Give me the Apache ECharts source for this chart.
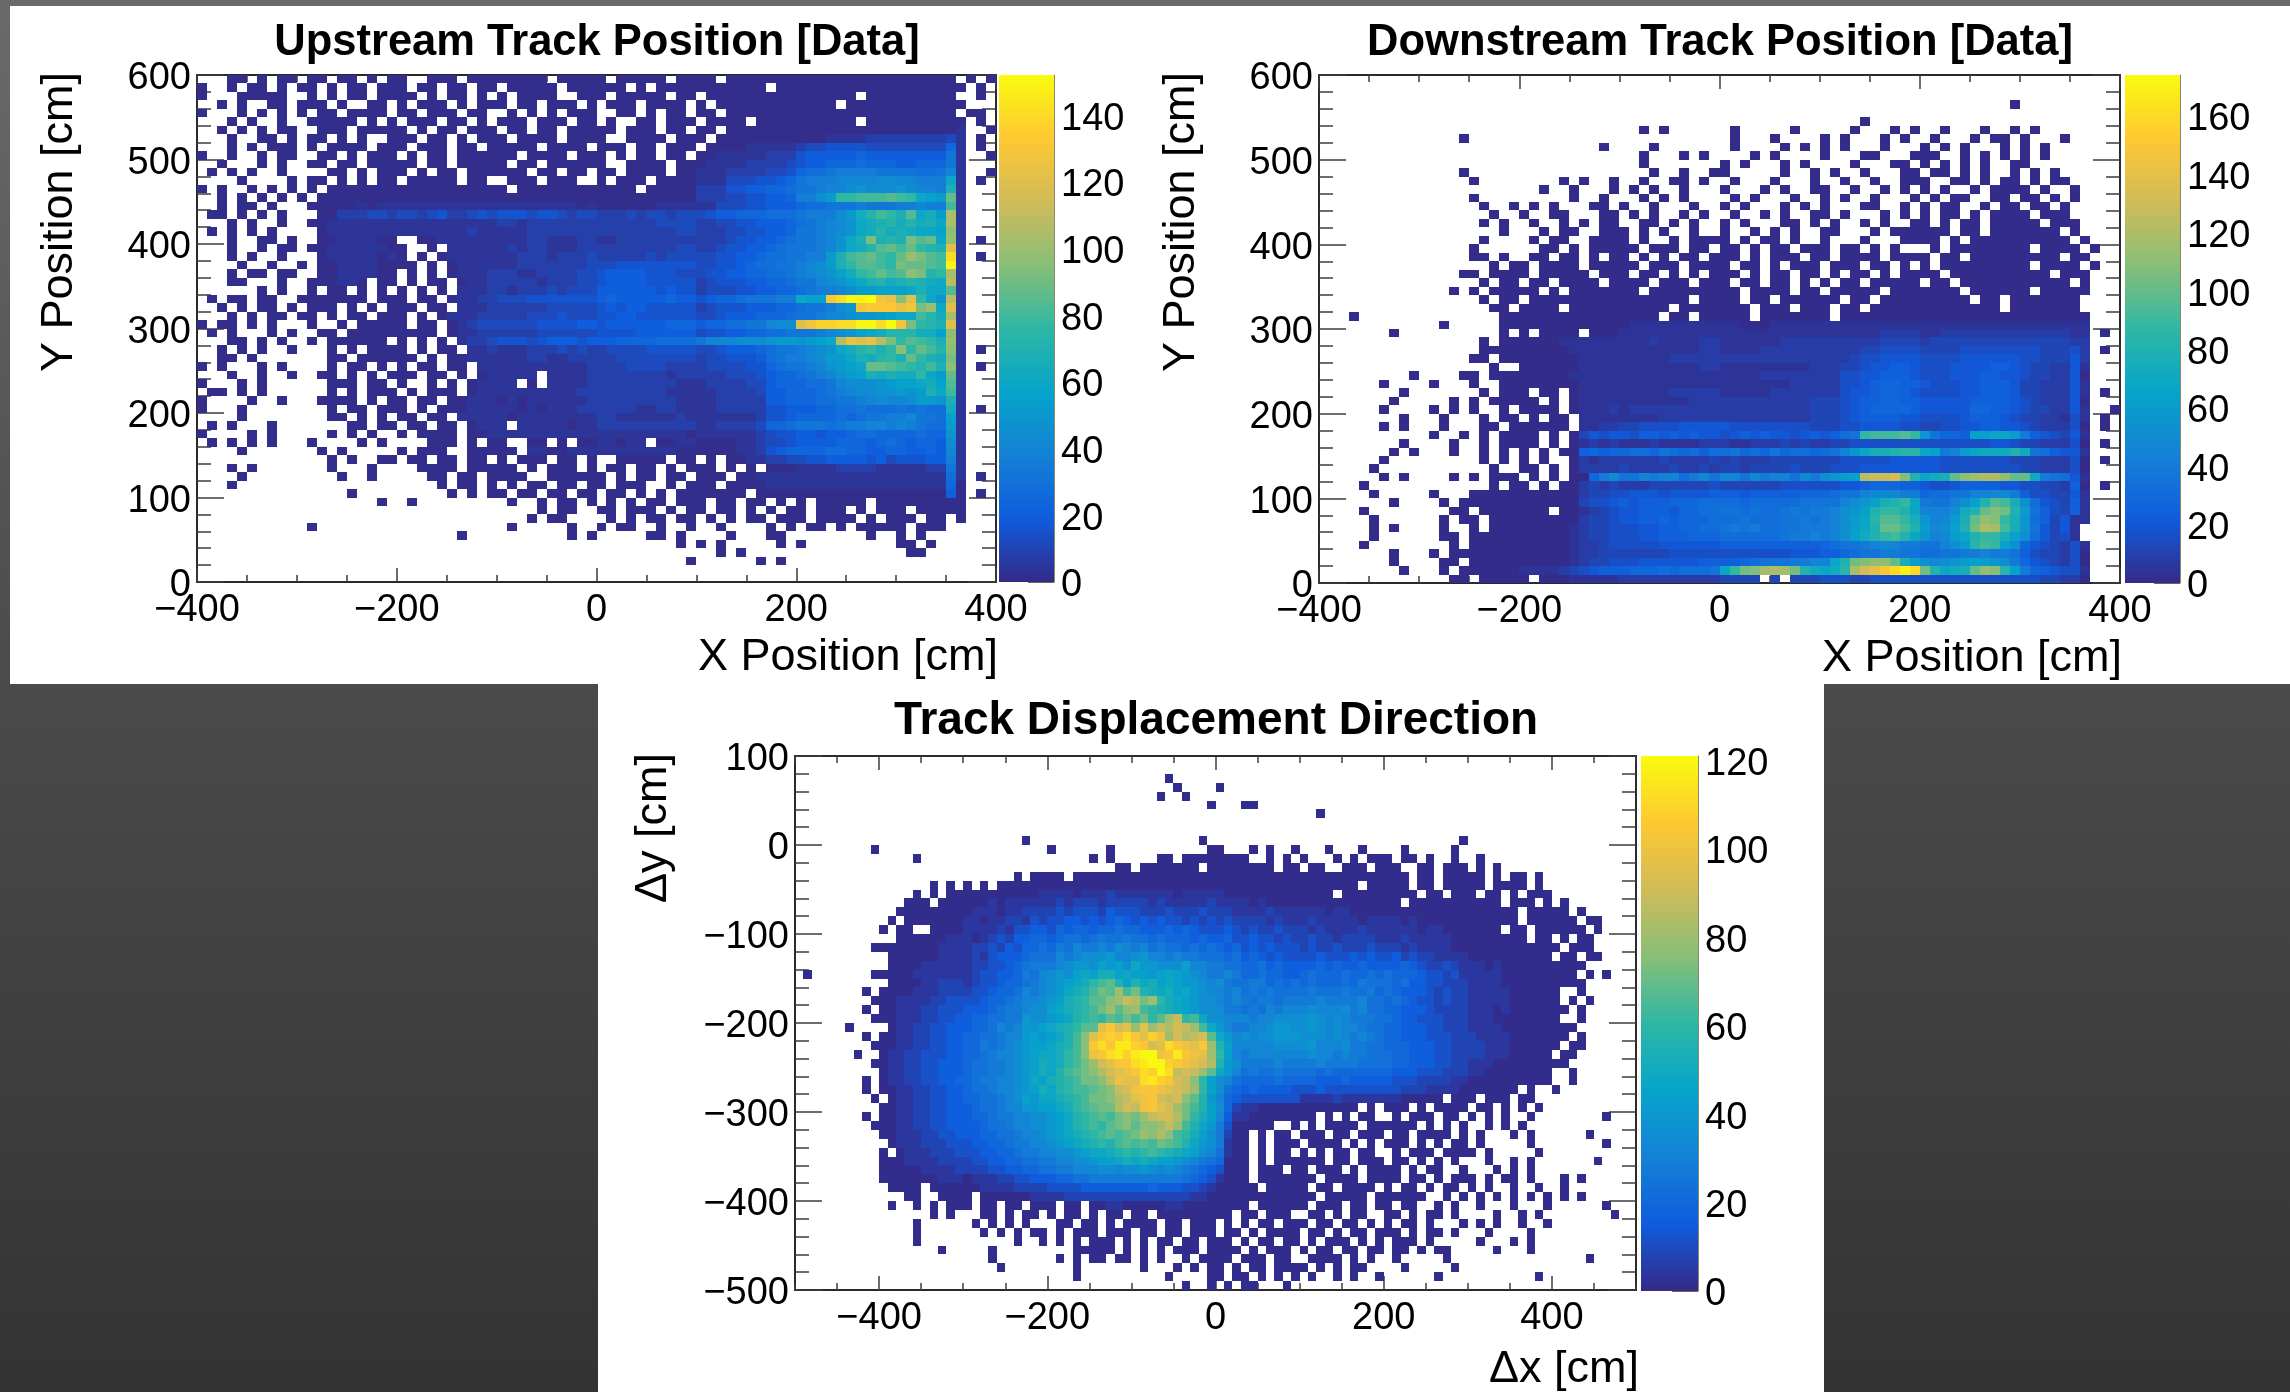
<!DOCTYPE html>
<html><head><meta charset="utf-8">
<style>html,body{margin:0;padding:0;background:#444}#c{width:2290px;height:1392px}</style>
<script src="https://cdn.jsdelivr.net/npm/echarts@6/dist/echarts.min.js"></script>
</head><body><div id="c"></div>
<script>
// Bin contents, one string per row from the top row down.
// '.' = empty bin, any other character = bin count through CODE_VALUES.
const CODES = "0123456789abcdefghijklmnopqrstuvwxyzABC";
const CODE_VALUES = [1,4,8,12,16,20,24,28,32,36,40,44,48,52,56,60,64,68,72,76,80,84,88,92,96,100,104,108,112,116,120,124,128,132,136,140,150,160,170];

const upstreamRows = [
"...00.0.00 .00.00.0.0 0..000.000 00000.0000 0.00000.00 00.0000000 0000000000 000000.0.0",
"0..0.00.0. 00.0.00.00 0.00.00.00 .00000.000 000.0.0000 0000000.00 0000000000 0000000.0.",
"0...00000. .0.0.00.00 00.0.00.0. 0.0000..00 0.00000.00 .000000000 000000.000 000000..0.",
"..0.0..00. 000.0..00. 0.000.0.00 0.00.000.0 .000.0000. 0.00000000 0000.00000 0000000...",
"0...0.0.0. 0.00.0000. 00.000.00. .0.0.0.000 ..00.0.00. 00.0000000 0000000000 000000.00.",
"...0.0..0. .00000.0.0 .000.00.0. 000.000.00 .0..00.000 .0000.0000 000000.000 0000000.0.",
"..0.0.0.00 ..000.0000 0.0.00.000 .00.00.000 00.000.00. 00.0000000 0000000000 0000001..0",
"...0..00.0 .00.0.0..0 00.00.0.00 0.0000.000 0..0000.00 0.00000000 0001111222 2222231.0.",
"...0.0.000 .0.0000.00 0.000.00.0 0000.0000 000.00.000 .000011111 2334444333 3333361.0.",
"0..0..0.00 ..00.0.000 .0.00.0000 00.0000.00 0.0.00.00. 0011111222 4555556555 5555581..0",
"..0...0.0. .00.00.000 00.00.0000 0.00.00000 0..0000.00 0111122223 4556667666 5566681...",
".0.0.0..0. ...00.0.00 0.0.00.000 000.00.00. 00.0000.00 1112222334 6778999988 88778a1..0",
"....0....0 .00.0.0.00 .00000.00. .000.000.. 0.000.0000 1113334456 8999aaaabb aa999f1.0.",
"0.0..0.0.0 .0.0000000 0000000000 0.00000000 0000.00000 2224455667 889aabcbbb cbaa9h1...",
"..0.0.0.0. 0.00000000 0000000000 0000000000 0000000000 2223344556 99bdjjkkkl kjfedm1...",
"..0.00.0.. .000001011 1111111111 1111111101 0000001111 1133344555 6778889888 99a99k1...",
".00.0.0.0. ..00222332 3323422343 4443443233 2223233233 3455666777 8999bdgikj hlfgdq1...",
"...0.0..0. .001111111 1111111111 2212222222 2222223333 2233445556 789abcfghi gighfq1...",
".0.0.0.0.. ..01111111 1111111211 1112222222 2222222233 2223344556 889abcfgig hgffeo1...",
"...0..00.0 ..00111100 ..00111111 1112211122 1122222222 2223445567 889acfhnhi hnlmfp1.0.",
"...0..0.00 .001111110 0..0.11111 1212211122 2222222233 2234455678 889acfgilm kmjihu1...",
"...0.0..0. ..01111101 0.0.011111 1122212223 2222232333 3344556778 899dhklmkj mpnlkz1.0.",
"....0..0.. 0.00111100 00.0.01111 1122222223 3344444444 3344567788 9abdhjllkj nmmlkA1...",
"...0.00.00 ..00111100 .0.0.01112 2211222233 4555544433 3445566778 9abcegjkmk lonijq1...",
"...00...0. .000110.00 .0.00.0112 2222122233 4555544444 2344455667 88abcefhig hihgfr1...",
"......0.0. .0.00.0.0. 0.0.0.1112 2122232333 5555554544 2333445566 7899abddee efhffl1...",
".0.00.00.. 0000000.00 0.00.01122 3334444444 5655555655 4566788899 feexzAABwv oujfcr1...",
"..0.0.00.0 .000.0.0.0 00.00.1112 2222233333 4545544444 2344455566 7889bcwxxx vwnpfu1...",
"...0.0.00. 00.0.00.00 0.0.011122 2223334333 4455444444 3345556667 889aabccde ffkigq1...",
"0.00.0.0.. .0..0.0000 0.00.01233 3333444455 4555555666 5667788abb uwyyzzAAzB wnjihu1...",
".0.0...0.0 ..00.00000 0000.01122 2222333333 4444555555 3445566778 889abcefgi iiggeo1...",
"...00.0.0. .0.000000. 0.0.0.1223 4443455545 5566667777 8aaabbbcdd cdefrvuvrn jlkjhp1...",
"..0.0.0..0 ...0.0.000 0.0.00.112 1112223232 2333344444 3345556788 9abcfgijhj ojmkio1.0.",
"..00.0.... ...00.0000 00.0.00111 1112211222 2233333333 2334445789 9abddfhgij hmjhgn1...",
"0.0...0.0. ...0.00.0. 0.00.00.11 1111111112 2223333222 2333344678 89acdefmml kjikho1.0.",
"...0..0..0 ..00.0.0.0 00.00.0.01 1111.11112 2222222122 2223334566 789acdehgh ggjfdm1...",
"0...0.0... ...000.00. 0..0.0.011 11.0.11112 2222222211 1222233566 6778abbbcd eefgel1...",
".00.0.0... ...0.0.000 .0.000.011 1111111122 2222222111 1122223556 66789abbcc dcdhfk1...",
"0....0..0. ..0000.0.0 0.00.00111 0101111112 2222222211 1122222556 6677889aba abddch1...",
"0...0..... ...0.00.00 0.0.000111 1101011122 2222112211 1122222445 5566778777 87877g1.0.",
"....0..... ...00.0.0. 00.00.1111 1011111111 2211111121 1111112445 6666767889 9a887e1...",
".0.0...0.. .....00.00 .00.00.011 1.11111011 2222222222 1122223667 8887899aa9 a9877d1...",
"0....0.0.. ...0.0.0.. 0.0000.001 1111111111 1111111110 1111112344 5545567766 66766c1...",
".0.0.0.0.. .0....0.0. ...000.0.0 0..00.0.00 11011.0011 0000112334 5555666567 65665b1...",
"....0..... ..0.0..... 0.000..000 00.1100111 1111111100 0000112456 6667766556 65565a1...",
".......... ...0.0..00 .00.00.00. 0.000.00.0 ..00000.00 .0.0011223 3445555453 4445591...",
"...0.0.... ...0...0.. ..0000.000 00.0.000.0 .00.00.0.0 00.0.0.000 1111222211 1112281...",
"....0..... ....0..0.. ...00.00.0 000..00000 0.0.00.00. 000.001111 1111111111 1111171.0.",
"...0...... .......... ....0.00.0 .0.00.00.0 0.000..0.0 00.0000111 1111111111 1111160...",
".......... .....0.... .....0.0.0 0.00.00.00 .00.0.0.00 00000.0000 0000000000 0000050.0.",
".......... ........0. .0........ .0..0.00.0 .0.0.00.00 0.00.00.0. 0.00000.00 0000000...",
".......... .......... .......... ....0.00.. 00.000.0.0 0.00.0.0.0 0.000.0.00 0.00000...",
".......... .......... .......... ...0.00... .0.0.00.00 .0.0.00.00 0.0000.0.0 00.00.0...",
".......... .0........ .......... .0.....0.. 0.00..0..0 ..0....0.0 .00.0.0000 0.000.....",
".......... .......... ......0... .......0.0 .....00.0. ...0...00. .......0.. 0.0.......",
".......... .......... .......... .......... ........0. 0.0.....0. 0......... 00.0......",
".......... .......... .......... .......... .......... ..0.0..... .......... .00.......",
".......... .......... .......... .......... .........0 ......0.0. .......... ..........",
"",
""
];

const downstreamRows = [
"",
"",
"",
".......... .......... .......... .......... .......... .......... .........0 ..........",
"",
".......... .......... .......... .......... .......... ....0..... .......... ..........",
".......... .......... .......... ..0.0..... .0.....0.. ...0...0.0 ..0...0..0 .0........",
".......... ....0..... .......... .......... .0...0.... 0.0...0.0. .0...0.00. 0...0.....",
".......... .......... ........0. ...0...... .0....0.0. 0.0...0... 0.0.0...0. 0.0.......",
".......... .......... .......... ..0...0.0. ...0.0.... 0...00...0 00..0.0.0. 0.0.......",
".......... .......... .......... ..0....... 0.0...0.0. ...0...00. 0.0.0.0..0 0.........",
".......... ....0..... .......... ...0..0..0 0.....0..0 .0..0...00 .00.0.0..0 .0.0......",
".......... .....0.... ....0.0..0 ..0..00.0. .0...0...0 ..0..0..00 0..00.0.00 .0.00.....",
".......... .......... ..0..0...0 .0.0..0... 0...0.0..0 0..0..0.0. 0.0..0.000 0.0..0....",
".......... .....0.... .....0..0. ..0.0.0... .0.0...0.. 0.0..0...0 .0.00..00. 00.0.0....",
".......... ......0..0 .0.0...00. 0..0...0.. 0.0...0.0. 0...00..0. 0.00..0.00 .00.0.....",
".......... .......0.. 0..00...00 .0.0..0.0. .0..0.0..0 0.0...0.0. 0.00.0.000 0.000.....",
".......... ......0.0. .0..0.0.00 ..00.0.0.. 0.0...00.0 .0..0.0..0 0.0.00.000 00.000....",
".......... ........0. ..0.00..00 0.0.0..0.. 0..0.0.0.. 00...0.000 000.00.000 0000.0....",
".......... ......0... .0.00..000 0.0..0.000 0.0.00.0.. 0...0...00 00.0.00000 00000.0...",
".......... .....0.... ..00.0.000 00.000.00. 00.0.00.00 0.00.0.0.. .0.0000000 0.0000.0..",
".......... .....00.0. .00.00.0.0 0.0.0.00.0 00.0.000.0 0.0000.000 0.00.00000 0000.00...",
".......... .......0.0 0.0000.000 00.000.000 0.00.0.000 .000.00.0. 0.00000000 0.0000.0..",
".......... ....00.000 0.00000.00 0.00.0.0.0 00.0.00.00 .0.00.0.00 00.0000000 000.000...",
".......... ......0.00 .00.0000.0 000.000.00 0.00.00.0. 0.00.00000 .00.000000 00000.0...",
".......... ...0.0.000 00.0.00000 00.0000000 00.0000.00 .00000.000 0000.00000 0.00000...",
".......... ......0.00 .000000000 0000000.00 00.00.0000 00.00.0000 00000.00.0 000000....",
".......... .......00. 0000.00000 00000.0000 000.000.00 0.00.00000 00000000.0 000000....",
"...0...... ........00 0000000000 0000.00.00 000.000000 0.00000000 0000000000 0000000...",
".......... ..0.....00 0000000000 0111111111 1100011111 1111111111 1111111111 1111111...",
".......0.. ........0. 0.0000.000 1111111111 1111111111 1111112222 1122222222 2222211.0.",
".......... ......0.00 0000111111 1112111122 1111112222 2222223333 2333333333 3333322...",
".......... ......0000 0000011111 1111111122 1111222222 2222334444 3333444444 4433342.0.",
".......... .....00.00 0000001111 1111122222 2222222222 2223445555 4444555555 4433352...",
".......... .......0.. 0000001111 1111111122 1111111112 2233455665 4445555665 4332251...",
".........0 ....00.000 0000011111 1111111111 1111222222 2244556665 4445556655 4332250...",
"......0... .0...0..00 0000001111 1111111111 1111111222 2244567766 5444556665 3322251...",
"........0. ......0.00 0.00.01111 1111122222 1111122222 2245567765 4444556665 3322251.0.",
".......0.. ...0.0.000 00.0.01111 1111111222 2222222223 3345667766 5555566665 4322250...",
"......0... .0.0.0..0. 0000.01112 1222222222 2222222223 3345677776 5555577665 4332251..0",
"........0. ..0...0.00 .0.00.1111 1111222222 2222222223 3345666655 4444566654 3322141.0.",
"......0.0. ..0...00.0 00000.1122 3344445555 5444444443 3344555544 3344556655 4322240.0.",
".......... .0..0.0.00 00.0.03545 5466565655 4565655456 5689mnnnom e9776gghhf a654351...",
"........0. ...0..0.00 00.0.01212 1112111122 2112223232 2334444444 4444444554 3322240.0.",
".......0.0 ...0..0.0. 0.0.006767 7887987868 8978797887 89behjjkll hgabfhiiik i986551...",
"......0... ......0.0. 0.0..02122 2222322223 2322233333 3344444555 5544444443 3322240.0.",
".....0.... .......0.. 00.0.02222 3222232232 3323333433 3444555555 5544444444 3322240...",
"......0.0. ...0.0.000 .0.0.007ac 99babb8ac9 cb9cabb9ca defgvwwxrk hijpstuusp pia9851...",
"....0..... .......0.0 0.0.002323 2223333334 3333334444 4455677766 5445666655 4433260.0.",
".....0.... .0...00000 0000002334 4555455556 6656666677 7899bcccaa 78899bbcca 6443351...",
".......0.. ..0.000000 0000003445 6566677788 8878888899 99bdegjkmh a99bdgkonj d854361...",
"....0..... ...00.0000 000.001234 5566657788 9989889a9a abdegkmmkh bbbdikprqk f964361...",
".....0.... ..0.00.000 0000002334 5566767778 88988899a9 abdfhloomj ebcfjpsrmj e863511...",
".....0.0.. ..0..0.000 0000012334 4455667788 9a9a8899aa abdfhkppnk fcdgkqutnj e95351....",
".....0.... ..00.00000 0000012334 4455666777 8888889aab abdgikmnkh ebcfhkmmjg d85341....",
"....0..... ...0.00000 0000012234 4444555555 6666666666 7899abcbaa 99bdflnmgd 7543241...",
".......0.. .0.0000000 0000012233 3333344444 4444444555 667899aa99 8899aabaa9 6433240...",
".......0.. ..00.00000 0000012334 4455555566 6678999aab bhkqrsspjf dcdefgfeda 7543240...",
"........0. ..0.000000 1111234566 6777878889 hmqrtutqki hiluxzABCB qkhijpsrlg a765441...",
".......... ...00.0000 0.00011111 2222222222 3333.3.333 4443344444 4444444444 4433220..."
];

const displacementRows = [
"",
"",
".......... .......... .......... .......... ....0.....",
".......... .......... .......... .......... .....0.... 0.........",
".......... .......... .......... .......... ...0..0...",
".......... .......... .......... .......... .........0 ...00.....",
".......... .......... .......... .......... .......... .......... ..0.......",
"",
"",
".......... .......... .......0.. .......... ........0. .......... .......... .........0",
".........0 .......... .......... 0......0.. .........0 0...0.0..0 ...0...0.. ..0.....0. .......... ..........",
".......... ....0..... .......... .....0.0.. ...00.0000 0000..0.0. 0...0.0.00 0.00.0..0. .0........ ..........",
".......... .......... .......... ........00 .0000000.0 0000000.00 .00..000.0 00..00.000 .0.0...... ..........",
".......... .......... ......0.00 00.0000000 0000000000 0000000000 0000000000 000.00.000 00.0.00.0. ..........",
".......... ......0.0. 0.0.000000 0000000000 0000000000 0000000000 0000000.00 000.00.000 00.0000.0. ..........",
".......... ....0.0.00 0000000001 1110111211 1111101111 1000000000 0000.00000 0000.00.00 0.00.0.000 ..........",
".......... ...000.000 0001011111 1212221222 2212111112 1111010000 0000000000 00.0000000 0000.000.0 .0........",
".......... ..00000000 0111011222 2323332433 3222322232 2211112111 1110110000 0000000000 000000.000 00.0......",
".......... .0.0000000 1101122132 3344343454 3434332323 2322221211 1211111011 1101000000 000000.000 000.00....",
".......... 0.00..0000 1111213344 3545545565 5444545433 3432322322 2121111211 1111011000 0000.00.00 0000.0....",
".......... ..00000011 1012324455 4566567667 6656555454 4533433232 2322122221 1121111100 0000000.00 .0.00.....",
".........0 0000000111 1223243556 5768778798 7867665656 5453434333 2322322232 2212111100 0000000000 0.000.....",
".......... .000000111 1213444566 6878999a88 9a88787766 6564543433 3343334343 3423221111 0000000000 .00.00....",
".......... .000011111 1223345677 789aa9bab9 caa999b887 7665564544 4454544544 4454322321 1101000000 0000......",
".0.......0 0000111111 1233445768 9a9bcbddbc bbabcba987 7875565544 5655565565 6555433231 1111000000 000.0.0...",
".......... .000011222 1233455678 9abcdfgheb ecdbcbaa98 9766775656 5655565766 6564433222 1111000000 0000......",
"........0. 0000111222 2334556878 9acdegihkg iedcdbca98 8786767666 6766676675 6544432322 1111100000 0..0......",
".........0 0011112233 3345567889 abdefhhjkm likfdcba99 8787677677 7787777866 5654332322 1111100000 0.0.0.....",
"........0. 0011122333 4445677899 bcdefgikhj kgfedcba99 9776768788 8988897866 5544432222 1110100000 00.0......",
".........0 0011122334 4556677a99 abcefgfhgi gifhkmfgc9 9888788999 9a98987776 6544333222 1110000000 0..0......",
"......0... .011223344 4556878aab cdefhhoqno kokmlnmkgc a877889aa9 9a98988766 5544433222 1111000000 000.......",
"........0. 0011223344 5566788aba bcegjoqrqs qorpknlmnh ca89899aaa 9998987876 5544433322 2111100000 00.0......",
".........0 0011223344 5576789abb cdegjqsqtt rqnosqpoqk eb88888999 9a88897766 5554443322 2211100000 0.00......",
".......0.. 0112233344 5567889abc cdfgjpqstr tuupqtqpok fb87888888 8988787766 6554443322 2211100000 .00.......",
".........0 0112233444 5667789abd cdfgiknoqq stuurqponl ea97777877 7787777666 6554443322 1110000000 00........",
".......... 0112233444 5667789abd ceghijlnop qsrusmnmkh ca86766766 6656555555 5444333222 1100000000 ..0.......",
"........0. 0112233445 5677889acb defgiijmpo ostrqnmjfb 9865555655 5544454444 4333222211 0000000000 ..0.......",
"........0. 0011223344 5667889abd cefgghijmn pqqponmkfb 9654544443 3343333333 3322211110 000000.0.. 0.........",
".........0 .011223344 5566789bac cdefgiijlm opqnmnjhea 8543333333 1111211111 1100000.00 0.000.00.. ..........",
".......... 0011223344 4566788aab bcdfghiiln mpqonkigeb 9521100000 0000000.0. 000.0.0000 .00.0.0.0. ..........",
"........0. 0011223344 4556778899 abcefghgij ikmnnlifdb 8411000000 00.0.0.00. .0.000.00. 0.0.0..0.. ......0...",
".........0 0011223344 4456678899 abcefgfhij hjjkmkgeca 7300000..0 .0.0000.00 0000.0.0.0 ..0.0.0... ..........",
".......... 0011122334 4455667889 abcdefghgh ikjljgfdb9 7200.0.00. 000.00.000 .00.0000.0 .0...0.0.. ....0.....",
".......... .011122233 3445567788 9abcdefegh ghgihgeca9 7100.0.000 .0000.0.0. 000.0.0.00 .0.....0.. ......0...",
".......... 0.01112223 3344556778 899abccdef efgfedcb98 6100.0.00. 0.0.00.00. .0.000.000 0.0.....0. ..........",
".......... 0001111222 2334455667 78899abbcd cdcbba9876 5000.0.000 000.00.000 .00.0.0.0. ..0..0.0.. .....0....",
".......... 0000011112 2223344556 6778889989 9a98987654 3000.000.0 0.000.0.00 00.0.00..0 ...0.0.0.. ..........",
".......... 0000000111 0111223344 4556677777 7777776543 1000.00000 00.0000.00 00.00.0.00 0.0.00.0.. .0.0......",
".......... .0000.0000 0011112222 3333444444 4454443321 00000.0000 0.00.0000. 0.00.0.00. 0.0..0..0. .0........",
".......... ...00..000 0.00000011 1122222222 2222222110 0000000000 00.00000.0 00000..0.0 .0.0.0.0.0 .0.0......",
".......... .0..0.0.00 0.00.00.00 0.00.00110 0000110000 0000.00000 0.000.00.0 0.00..0.0. .0...0...0 ......0...",
".......... ......0.0. ..00.0.00. 0.00.0.00. 00.0000000 00.00.000. .00.0.00.. 00.0.00.0. ...0..0.0. .......0..",
".......... ....0..... .0.0.0.0.. .00.00.0.0 000.00.000 .0.0.00.00 0.00.00.0. 0.00.0...0 .0.0..0..0 ..........",
".......... ....0..... ..0.0.0.00 .0.000.000 .00.00.000 .00.0.0000 .00.0.00.0 00.0.00.0. ..0....0.. ..........",
".......... ....0..... ......0..0 .0.0.000.0 .0.00.00.0 00.0.00.00 .0.000.0.0 .000.0.... .0...0.0.. ..........",
".......... .......0.. ...0...... ...00000.0 .0.0.000.0 000.0.000. 0.00.00.00 .00.0.00.. ...0...0.. ..........",
".......... .......... ...0...... .0.0.00.00 .0.0..0.00 00.000.00. .0000.0.0. .0.....0.. .......... ....0.....",
".......... .......... ....0..... ...0...... .0...0.0.0 0.0.00.000 0.0.0.00.. ..0.....0. .......... ..........",
".......... .......... .......... ...0...... ....0....0 0.00.0.0.0 .0..0.0..0 ......0... ........0. ..........",
".......... .......... .......... .......... ......0..0 .0.00...0. .......... .......... .......... .........."
];

const titles = ["Upstream Track Position [Data]","Downstream Track Position [Data]","Track Displacement Direction"];
const xNames = ["X Position [cm]","X Position [cm]","\u0394x [cm]"];
const yNames = ["Y Position [cm]","Y Position [cm]","\u0394y [cm]"];
const xTicks12 = [-400,-200,0,200,400];
const xTicks3 = [-400,-200,0,200,400];
const xTicks3Short = [-500,-300,-100,100,300,500];
const zTicks1 = [0,20,40,60,80,100,120,140];
const zTicks2 = [0,20,40,60,80,100,120,140,160];
const zTicks3 = [0,20,40,60,80,100,120];
const zMax = [152,174,121];
const BIRD = ["#352a87","#0f5cdd","#1481d6","#06a4ca","#2eb7a4","#87bf77","#d1bb59","#fec832","#f9fb0e"];

const FONT = "Liberation Sans";
const W = 2290, H = 1392;
const panels = [
  {rows:upstreamRows,  x0:-400,x1:400,y0:0,   y1:600,yTop:590,grid:[197,75,799,507], bar:[999,75,55,507],  zTicks:zTicks1},
  {rows:downstreamRows,x0:-400,x1:400,y0:0,   y1:600,yTop:590,grid:[1319,75,801,508],bar:[2125,75,55,508], zTicks:zTicks2},
  {rows:displacementRows,x0:-500,x1:500,y0:-500,y1:100,yTop:90,grid:[795,756,841,535],bar:[1641,756,57,535],zTicks:zTicks3}
];
const STEP = 10;

function decode(p){
  const out=[];
  p.rows.forEach((row,r)=>{
    const groups=row.split(" ");
    groups.forEach((g,gi)=>{
      for(let k=0;k<Math.min(10,g.length);k++){
        const ch=g[k]; if(ch==='.')continue;
        const idx=CODES.indexOf(ch); if(idx<0)continue;
        out.push([p.x0+(gi*10+k)*STEP, p.yTop-r*STEP, CODE_VALUES[idx]]);
      }
    });
  });
  return out;
}
const fmt=v=>String(v).replace('-','\u2212');
const label={fontFamily:FONT,fontSize:38,color:'#000',margin:6,formatter:fmt};
const LINE={color:'#2a2a2a',width:2};
const TICK={color:'#3c3c3c',width:1.5};

const grids=[],xAxes=[],yAxes=[],series=[],visualMaps=[],tt=[];
panels.forEach((p,i)=>{
  const g=p.grid,b=p.bar;
  grids.push({left:g[0],top:g[1],width:g[2],height:g[3],show:false});
  const gi=grids.length-1;
  const isD=i===2;
  const xBase={gridIndex:gi,type:'value',min:p.x0,max:p.x1,axisLine:{onZero:false,lineStyle:LINE},splitLine:{show:false}};
  const xMajor=isD?xTicks3:xTicks12;
  const dataX=xAxes.length;
  xAxes.push(Object.assign({},xBase,{position:'bottom',interval:isD?100:200,
    axisTick:{inside:true,length:14,lineStyle:TICK,customValues:xMajor},
    axisLabel:Object.assign({},label,{customValues:xMajor,margin:10}),
    minorTick:{show:true,splitNumber:isD?2:4,length:7,lineStyle:TICK},
    name:xNames[i],nameLocation:'end',nameGap:isD?3:2,nameMoveOverlap:false,
    nameTextStyle:{fontFamily:FONT,fontSize:45,color:'#000',align:'right',verticalAlign:'top',padding:[isD?57:53,0,0,0]}}));
  xAxes.push(Object.assign({},xBase,{position:'top',interval:isD?100:200,
    axisTick:{inside:true,length:14,lineStyle:TICK,customValues:xMajor},axisLabel:{show:false},
    minorTick:{show:true,splitNumber:isD?2:4,length:7,lineStyle:TICK}}));
  if(isD){
    xAxes.push(Object.assign({},xBase,{position:'top',interval:100,axisTick:{inside:true,length:7,lineStyle:TICK,customValues:xTicks3Short},axisLabel:{show:false}}));
    xAxes.push(Object.assign({},xBase,{position:'bottom',interval:100,axisTick:{inside:true,length:7,lineStyle:TICK,customValues:xTicks3Short},axisLabel:{show:false}}));
  }
  const yBase={gridIndex:gi,type:'value',min:p.y0,max:p.y1,interval:100,axisLine:{onZero:false,lineStyle:LINE},splitLine:{show:false},
    axisTick:{inside:true,length:27,lineStyle:TICK},minorTick:{show:true,splitNumber:5,length:14,lineStyle:TICK}};
  const dataY=yAxes.length;
  const yGapPad=i===0?115:(i===1?115:119);
  yAxes.push(Object.assign({},yBase,{position:'left',axisLabel:Object.assign({},label,{verticalAlign:'bottom',padding:[0,0,-23,0]}),
    name:yNames[i],nameLocation:'end',nameGap:3,nameRotate:90,nameMoveOverlap:false,
    nameTextStyle:{fontFamily:FONT,fontSize:45,color:'#000',align:'right',verticalAlign:'bottom',padding:[0,0,yGapPad,0]}}));
  yAxes.push(Object.assign({},yBase,{position:'right',axisLabel:{show:false}}));

  visualMaps.push({show:false,seriesIndex:series.length,dimension:2,min:0,max:zMax[i],inRange:{color:BIRD}});
  series.push({type:'custom',coordinateSystem:'cartesian2d',xAxisIndex:dataX,yAxisIndex:dataY,
    data:decode(p),encode:{x:0,y:1},animation:false,silent:true,clip:true,progressive:0,progressiveThreshold:1e8,
    renderItem:(params,api)=>{
      const a=api.coord([api.value(0),api.value(1)]);
      const c=api.coord([api.value(0)+STEP,api.value(1)+STEP]);
      const l=Math.round(a[0]),r=Math.round(c[0]),t=Math.round(c[1]),bo=Math.round(a[1]);
      return {type:'rect',shape:{x:l,y:t,width:r-l,height:bo-t},style:{fill:api.visual('color')}};
    }});

  // colour bar
  grids.push({left:b[0],top:b[1],width:b[2],height:b[3],show:false});
  const bi=grids.length-1;
  const bx=xAxes.length,by=yAxes.length;
  xAxes.push({gridIndex:bi,type:'value',min:0,max:1,show:false});
  yAxes.push({gridIndex:bi,type:'value',min:0,max:zMax[i],position:'right',interval:20,
    axisLine:{show:true,onZero:false,lineStyle:{color:'#8a8a6a',width:1}},splitLine:{show:false},
    axisTick:{show:true,inside:true,length:26,lineStyle:{color:'#333',width:1.5},customValues:p.zTicks},
    axisLabel:Object.assign({},label,{customValues:p.zTicks,margin:7,verticalAlign:'bottom',padding:[0,0,-23,0]})});
  series.push({type:'custom',coordinateSystem:'cartesian2d',xAxisIndex:bx,yAxisIndex:by,
    data:[[0,0,1,zMax[i]]],encode:{x:[0,2],y:[1,3]},animation:false,silent:true,z:1,
    renderItem:(params,api)=>{
      const a=api.coord([api.value(0),api.value(1)]);
      const c=api.coord([api.value(2),api.value(3)]);
      return {type:'rect',shape:{x:a[0],y:c[1],width:c[0]-a[0],height:a[1]-c[1]},
        style:{fill:{type:'linear',x:0,y:1,x2:0,y2:0,colorStops:BIRD.map((col,k)=>({offset:k/8,color:col}))}}};
    }});
});

const titleCentres=[[597,21],[1720,21],[1216,698]];
const titleSizes=[43.5,43.5,46];
titles.forEach((t,i)=>tt.push({text:t,left:titleCentres[i][0],top:titleCentres[i][1],textAlign:'center',padding:0,
  textStyle:{fontFamily:FONT,fontSize:titleSizes[i],fontWeight:'bold',color:'#000'}}));

const chart=echarts.init(document.getElementById('c'),null,{renderer:'canvas',width:W,height:H});
chart.setOption({
  animation:false,progressive:0,
  title:tt,grid:grids,xAxis:xAxes,yAxis:yAxes,visualMap:visualMaps,series:series,
  graphic:{elements:[
    {type:'rect',silent:true,z:-30,shape:{x:0,y:0,width:W,height:H},
      style:{fill:{type:'linear',x:0,y:0,x2:0,y2:1,colorStops:[{offset:0,color:'#6a6a6a'},{offset:0.5,color:'#4a4a4a'},{offset:1,color:'#333333'}]}}},
    {type:'rect',silent:true,z:-20,shape:{x:10,y:6,width:W-10,height:678},style:{fill:'#fff'}},
    {type:'rect',silent:true,z:-20,shape:{x:598,y:684,width:1226,height:H-684},style:{fill:'#fff'}}
  ]}
});
</script></body></html>
